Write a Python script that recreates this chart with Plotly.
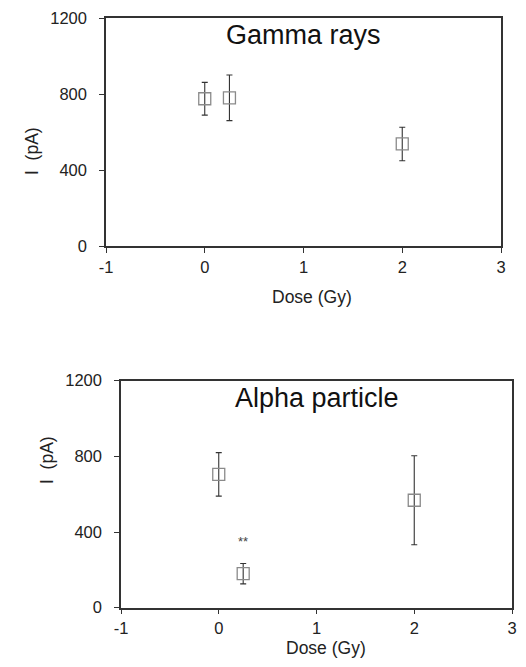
import plotly.graph_objects as go

# ---- data ----
gamma_dose = [0, 0.25, 2]
gamma_current = [775, 780, 537]
gamma_err = [86, 120, 88]

alpha_dose = [0, 0.25, 2]
alpha_current = [705, 180, 568]
alpha_err = [115, 54, 235]

x_tickvals = [-1, 0, 1, 2, 3]
x_ticktext = ["-1", "0", "1", "2", "3"]
y_tickvals = [0, 400, 800, 1200]
y_ticktext = ["0", "400", "800", "1200"]

# page body has an 8px margin; size the figure so it fits the 526x667 window
OFF = 8
W, H = 526 - 2 * OFF, 667 - 2 * OFF
FONT = "Liberation Sans, Arial, sans-serif"


def fx(px):
    return (px - OFF) / W


def fy(py):
    return 1 - (py - OFF) / H


fig = go.Figure()

marker = dict(symbol="square-open", size=12, color="#8a8a8a", line=dict(width=1.3, color="#8a8a8a"))
err_style = dict(type="data", thickness=1.1, width=3, color="#333333")

fig.add_trace(go.Scatter(
    x=gamma_dose, y=gamma_current, mode="markers", marker=marker,
    error_y=dict(array=gamma_err, **err_style), xaxis="x", yaxis="y", showlegend=False))
fig.add_trace(go.Scatter(
    x=alpha_dose, y=alpha_current, mode="markers", marker=marker,
    error_y=dict(array=alpha_err, **err_style), xaxis="x2", yaxis="y2", showlegend=False))

axis_common = dict(
    showgrid=False, zeroline=False, showline=True, linecolor="#333333", linewidth=1.5,
    mirror=True, ticks="outside", ticklen=5, tickwidth=1.3, tickcolor="#333333",
    automargin=False, ticklabeloverflow="allow",
    tickfont=dict(family=FONT, size=16.5, color="#222222"),
)

fig.update_layout(
    width=W, height=H,
    margin=dict(l=0, r=0, t=0, b=0, autoexpand=False),
    paper_bgcolor="white", plot_bgcolor="white",
    xaxis=dict(domain=[fx(106), fx(501)], range=[-1, 3], tickvals=x_tickvals, ticktext=x_ticktext,
               anchor="y", ticklabelstandoff=0, **axis_common),
    yaxis=dict(domain=[fy(246), fy(18)], range=[0, 1200], tickvals=y_tickvals, ticktext=y_ticktext,
               anchor="x", ticklabelstandoff=9, **axis_common),
    xaxis2=dict(domain=[fx(121), fx(512)], range=[-1, 3], tickvals=x_tickvals, ticktext=x_ticktext,
                anchor="y2", ticklabelstandoff=0, **axis_common),
    yaxis2=dict(domain=[fy(607.7), fy(380.7)], range=[0, 1200], tickvals=y_tickvals, ticktext=y_ticktext,
                anchor="x2", ticklabelstandoff=9, **axis_common),
)

title_font = dict(family=FONT, size=27, color="#111111")
label_font = dict(family=FONT, size=17.5, color="#222222")

anns = [
    dict(text="Gamma rays", x=1, y=1110, xref="x", yref="y", showarrow=False, font=title_font),
    dict(text="Alpha particle", x=1, y=1108, xref="x2", yref="y2", showarrow=False, font=title_font),
    dict(text="**", x=0.25, y=350, xref="x2", yref="y2", showarrow=False,
         font=dict(family=FONT, size=13, color="#444444")),
    dict(text="Dose (Gy)", x=fx(312), y=fy(297), xref="paper", yref="paper", showarrow=False,
         font=label_font),
    dict(text="Dose (Gy)", x=fx(326), y=fy(660), xref="paper", yref="paper", showarrow=False,
         font=label_font),
    dict(text="I  (pA)", x=fx(20), y=fy(125), xref="paper", yref="paper", showarrow=False,
         textangle=-90, font=label_font),
    dict(text="I  (pA)", x=fx(35), y=fy(486), xref="paper", yref="paper", showarrow=False,
         textangle=-90, font=label_font),
]
fig.update_layout(annotations=anns)

fig.write_html("out.html")
